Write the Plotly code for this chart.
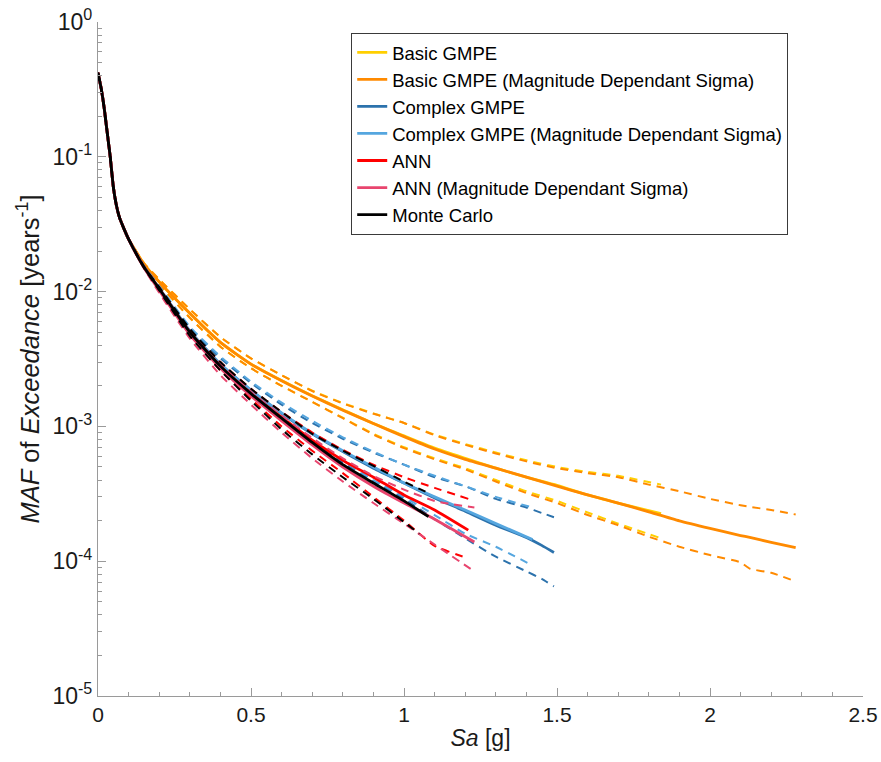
import plotly.graph_objects as go

# ---------------- data ----------------
# common steep head of all hazard curves (x <= 0.1 g)
X_HEAD = [0, 0.01, 0.02, 0.03, 0.04, 0.05, 0.06, 0.07, 0.085, 0.1]
Y_HEAD = [0.42, 0.325, 0.232, 0.152, 0.1, 0.060, 0.0437, 0.0355, 0.0292, 0.0245]

# Basic GMPE
X_BASIC = [0.15, 0.2, 0.3, 0.4, 0.5, 0.6, 0.7, 0.8, 0.9, 1.0, 1.1, 1.2, 1.3, 1.4, 1.5, 1.6, 1.7, 1.84]
BASIC_MEAN = [0.016, 0.0118, 0.0069, 0.0042, 0.0029, 0.00219, 0.00169, 0.00133, 0.00105, 0.00085, 0.00069, 0.00058, 0.00049, 0.00042, 0.000365, 0.00031, 0.00027, 0.000225]
BASIC_UP = [0.0163, 0.0123, 0.0074, 0.0046, 0.0032, 0.0024, 0.00184, 0.00149, 0.00125, 0.00106, 0.00087, 0.00074, 0.00064, 0.00056, 0.0005, 0.00046, 0.00043, 0.00037]
BASIC_LO = [0.0158, 0.0113, 0.0064, 0.0039, 0.0027, 0.002, 0.00152, 0.00116, 0.00088, 0.0007, 0.00058, 0.00049, 0.0004, 0.00033, 0.00028, 0.00023, 0.00019, 0.000148]

# Basic GMPE (Magnitude Dependant Sigma)
X_BMDS = [0.15, 0.2, 0.3, 0.4, 0.5, 0.6, 0.7, 0.8, 0.9, 1.0, 1.1, 1.2, 1.3, 1.4, 1.5, 1.6, 1.7, 1.8, 1.9, 2.0, 2.1, 2.13, 2.2, 2.28]
BMDS_MEAN = [0.016, 0.0118, 0.0069, 0.0042, 0.0029, 0.00218, 0.00168, 0.00132, 0.00105, 0.00084, 0.00068, 0.00057, 0.00049, 0.00042, 0.00036, 0.00031, 0.00027, 0.000232, 0.000199, 0.000175, 0.000155, 0.00015, 0.000138, 0.000126]
BMDS_UP = [0.0163, 0.0123, 0.0074, 0.0046, 0.0032, 0.0024, 0.00183, 0.00148, 0.00124, 0.00106, 0.00086, 0.00073, 0.00063, 0.00055, 0.00049, 0.00045, 0.00042, 0.00037, 0.00033, 0.00029, 0.00026, 0.000253, 0.00024, 0.000222]
BMDS_LO = [0.0158, 0.0113, 0.0064, 0.0039, 0.0027, 0.002, 0.00152, 0.00115, 0.00087, 0.00069, 0.00057, 0.00048, 0.00039, 0.00032, 0.00027, 0.00022, 0.000185, 0.000152, 0.000128, 0.000111, 0.000098, 0.000088, 0.000082, 0.0000708]

# Complex GMPE
X_CPX = [0.15, 0.2, 0.3, 0.4, 0.5, 0.6, 0.7, 0.8, 0.9, 1.0, 1.1, 1.2, 1.3, 1.4, 1.45, 1.49]
CPX_MEAN = [0.0153, 0.0106, 0.0051, 0.0029, 0.00185, 0.00125, 0.00088, 0.00065, 0.00049, 0.00038, 0.000295, 0.000235, 0.000185, 0.00015, 0.000131, 0.000116]
CPX_UP = [0.0155, 0.0109, 0.0054, 0.0032, 0.0021, 0.00145, 0.00106, 0.00081, 0.00064, 0.00052, 0.00042, 0.00036, 0.00029, 0.00025, 0.000228, 0.000212]
CPX_LO = [0.0151, 0.0102, 0.0048, 0.0027, 0.0017, 0.0011, 0.00076, 0.00054, 0.00039, 0.00029, 0.000205, 0.000148, 0.000108, 0.000084, 0.000074, 0.000065]

# Complex GMPE (Magnitude Dependant Sigma)
X_CMDS = [0.15, 0.2, 0.3, 0.4, 0.5, 0.6, 0.7, 0.8, 0.9, 1.0, 1.1, 1.2, 1.3, 1.42]
CMDS_MEAN = [0.0153, 0.0106, 0.0051, 0.0029, 0.00186, 0.00126, 0.00089, 0.00066, 0.0005, 0.00038, 0.0003, 0.00024, 0.00019, 0.000145]
CMDS_UP = [0.0155, 0.011, 0.0055, 0.0033, 0.00215, 0.0015, 0.0011, 0.00083, 0.00065, 0.00052, 0.00043, 0.00036, 0.0003, 0.00025]
CMDS_LO = [0.0151, 0.0103, 0.0049, 0.0028, 0.00172, 0.00112, 0.00078, 0.00056, 0.0004, 0.0003, 0.00022, 0.00016, 0.000128, 0.000093]

# ANN
X_ANN = [0.15, 0.2, 0.3, 0.4, 0.5, 0.6, 0.7, 0.8, 0.9, 1.0, 1.1, 1.21]
ANN_MEAN = [0.0152, 0.0105, 0.005, 0.0028, 0.00176, 0.00117, 0.00079, 0.00056, 0.00042, 0.00031, 0.00024, 0.00017]
ANN_UP = [0.0154, 0.0107, 0.0052, 0.003, 0.0019, 0.00128, 0.0009, 0.00067, 0.00052, 0.00042, 0.00035, 0.00029]
ANN_LO = [0.015, 0.0103, 0.0048, 0.0026, 0.0016, 0.001, 0.00066, 0.00045, 0.0003, 0.0002, 0.00013, 0.000105]

# ANN (Magnitude Dependant Sigma)
X_AMDS = [0.15, 0.2, 0.3, 0.4, 0.5, 0.6, 0.7, 0.8, 0.9, 1.0, 1.1, 1.23]
AMDS_MEAN = [0.0151, 0.0102, 0.0048, 0.0027, 0.00168, 0.0011, 0.00073, 0.0005, 0.00036, 0.00027, 0.000205, 0.000139]
AMDS_UP = [0.0153, 0.0105, 0.005, 0.0029, 0.0018, 0.0012, 0.00082, 0.00058, 0.00043, 0.00034, 0.00028, 0.00025]
AMDS_LO = [0.0149, 0.0098, 0.0045, 0.0024, 0.00145, 0.0009, 0.00058, 0.00039, 0.00027, 0.00019, 0.000133, 0.000084]

# Monte Carlo
X_MC = [0.15, 0.2, 0.3, 0.4, 0.5, 0.6, 0.7, 0.8, 0.9, 1.0, 1.08]
MC_MEAN = [0.0152, 0.0105, 0.005, 0.0028, 0.00175, 0.00115, 0.00076, 0.00052, 0.00038, 0.00028, 0.000214]
MC_UP = [0.0153, 0.0108, 0.0053, 0.003, 0.0019, 0.00128, 0.00088, 0.00066, 0.00051, 0.00039, 0.00032]
X_MC_LO = [0.15, 0.2, 0.3, 0.4, 0.5, 0.6, 0.7, 0.8, 0.9, 1.0, 1.05]
MC_LO = [0.0151, 0.0102, 0.0047, 0.0026, 0.00155, 0.00095, 0.00062, 0.00042, 0.00029, 0.000195, 0.00016]

NAMES = ["Basic GMPE", "Basic GMPE (Magnitude Dependant Sigma)", "Complex GMPE",
         "Complex GMPE (Magnitude Dependant Sigma)", "ANN", "ANN (Magnitude Dependant Sigma)",
         "Monte Carlo"]
COLORS = ["#FFCF00", "#FF8A00", "#2C72AC", "#55A6DF", "#FF0000", "#E8456E", "#000000"]

Y_TICKS = [1e-5, 1e-4, 1e-3, 1e-2, 1e-1, 1e0]
Y_TICKTEXT = ["10<sup>-5</sup>", "10<sup>-4</sup>", "10<sup>-3</sup>", "10<sup>-2</sup>",
              "10<sup>-1</sup>", "10<sup>0</sup>"]
X_TICKS = [0, 0.5, 1, 1.5, 2, 2.5]
X_TICKTEXT = ["0", "0.5", "1", "1.5", "2", "2.5"]

series = [
    (X_BASIC, BASIC_MEAN, X_BASIC, BASIC_UP, X_BASIC, BASIC_LO),
    (X_BMDS, BMDS_MEAN, X_BMDS, BMDS_UP, X_BMDS, BMDS_LO),
    (X_CPX, CPX_MEAN, X_CPX, CPX_UP, X_CPX, CPX_LO),
    (X_CMDS, CMDS_MEAN, X_CMDS, CMDS_UP, X_CMDS, CMDS_LO),
    (X_ANN, ANN_MEAN, X_ANN, ANN_UP, X_ANN, ANN_LO),
    (X_AMDS, AMDS_MEAN, X_AMDS, AMDS_UP, X_AMDS, AMDS_LO),
    (X_MC, MC_MEAN, X_MC, MC_UP, X_MC_LO, MC_LO),
]

FONT = "Liberation Sans, Arial, sans-serif"
TEXT_COLOR = "#1A1A1A"
fig = go.Figure()

for name, color, (xm, ym, xu, yu, xl, yl) in zip(NAMES, COLORS, series):
    fig.add_trace(go.Scatter(
        x=X_HEAD + xm, y=Y_HEAD + ym, mode="lines", name=name,
        line=dict(color=color, width=2.8, shape="spline", smoothing=0.5),
        showlegend=True))
    for xx, yy in ((xu, yu), (xl, yl)):
        fig.add_trace(go.Scatter(
            x=X_HEAD + xx, y=Y_HEAD + yy, mode="lines", name=name,
            line=dict(color=color, width=2.0, dash="8px,6px", shape="spline", smoothing=0.5),
            showlegend=False, hoverinfo="skip"))

axis_color = "#9A9A9A"
fig.update_layout(
    width=881, height=762,
    margin=dict(l=98, r=18, t=22, b=66),
    paper_bgcolor="white", plot_bgcolor="white",
    font=dict(family=FONT, color=TEXT_COLOR, size=20),
    showlegend=True,
    legend=dict(
        x=0.331, y=0.984, xanchor="left", yanchor="top",
        bgcolor="white", bordercolor="#3A3A3A", borderwidth=1,
        font=dict(family=FONT, size=18.5, color="#000000"),
        tracegroupgap=0, itemwidth=30,
    ),
    xaxis=dict(
        range=[0, 2.5], tickmode="array", tickvals=X_TICKS, ticktext=X_TICKTEXT,
        ticks="inside", ticklen=8, tickwidth=1, tickcolor=axis_color,
        showline=True, linecolor=axis_color, linewidth=1.2, mirror=False,
        showgrid=False, zeroline=False, automargin=False,
        minor=dict(ticks="inside", ticklen=4, tickwidth=1, tickcolor=axis_color, dtick=0.1, showgrid=False),
        tickfont=dict(size=21, color=TEXT_COLOR),
        title=dict(text="<i>Sa</i> [g]", font=dict(size=23, color=TEXT_COLOR), standoff=4),
    ),
    yaxis=dict(
        type="log", range=[-5, 0], tickmode="array", tickvals=Y_TICKS, ticktext=Y_TICKTEXT,
        ticks="inside", ticklen=8, tickwidth=1, tickcolor=axis_color,
        showline=True, linecolor=axis_color, linewidth=1.2, mirror=False,
        showgrid=False, zeroline=False, automargin=False,
        minor=dict(ticks="inside", ticklen=4, tickwidth=1, tickcolor=axis_color, dtick="D1", showgrid=False),
        tickfont=dict(size=23, color=TEXT_COLOR),
        title=dict(text="<i>MAF</i> of <i>Exceedance</i> [years<sup>-1</sup>]",
                   font=dict(size=25.5, color=TEXT_COLOR), standoff=5),
    ),
)

fig.write_html("out.html")
